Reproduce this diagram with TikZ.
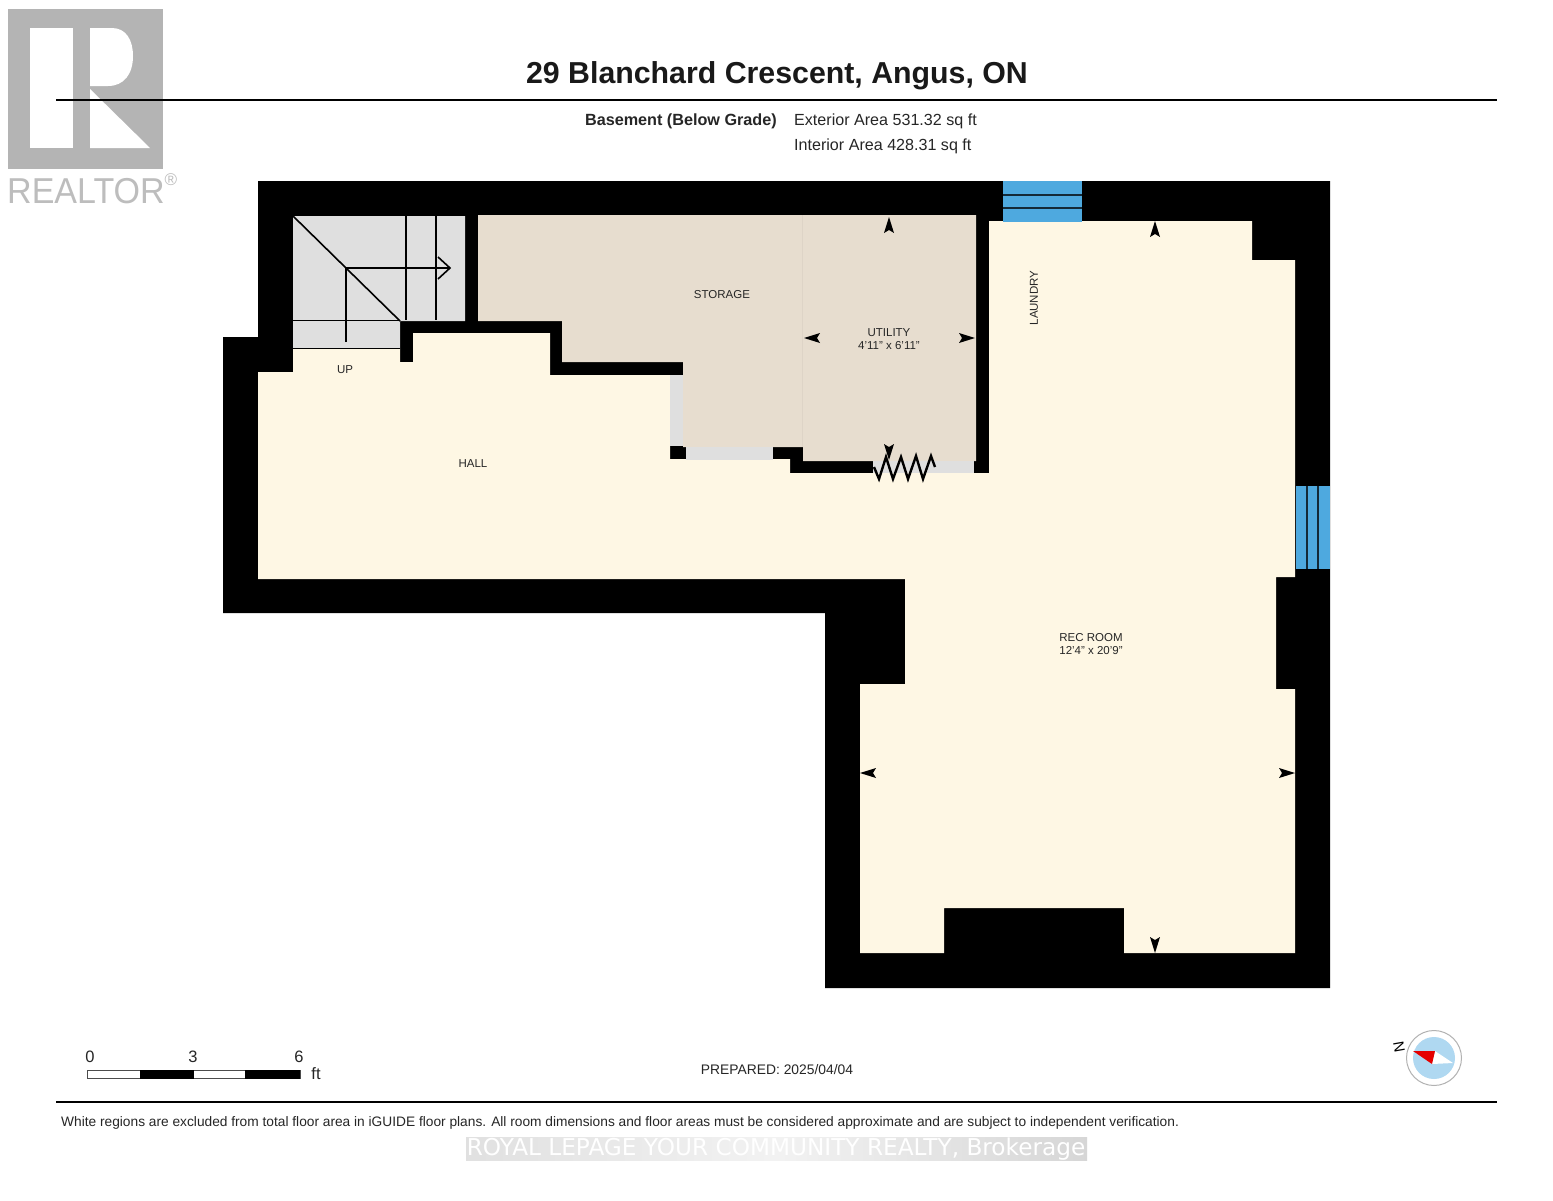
\documentclass[tikz,border=0pt]{standalone}
\usepackage{fontspec}
\setmainfont{Liberation Sans}
\newfontfamily\wmfont{DejaVu Sans}
\definecolor{cream}{HTML}{FEF7E4}
\definecolor{beige}{HTML}{E7DDCF}
\definecolor{stairgray}{HTML}{DFDFDF}
\definecolor{winblue}{HTML}{4EA9DF}
\definecolor{logogray}{HTML}{B4B4B4}
\definecolor{logotext}{HTML}{BDBDBD}
\newcommand{\dimtip}[3]{\fill[black,shift={(#1,#2)},rotate=#3] (0,-8) -- (5,8) -- (0,5) -- (-5,8) -- cycle;}
\tikzset{
  lbl/.style={font=\fontsize{11.5}{13}\selectfont,inner sep=0pt,text=black!85},
  rule/.style={line width=2.8pt,black},
  glass/.style={fill=winblue,draw=none},
  glassline/.style={line width=1.5pt,color=black!75!winblue},
  stairline/.style={line width=1.6pt,black},
}
\begin{document}
\begin{tikzpicture}[x=1pt,y=-1pt]
\useasboundingbox (0,0) rectangle (1553,1200);
\fill[white] (0,0) rectangle (1553,1200);
% logo
\fill[logogray] (8,9) rectangle (163,169);
\fill[white] (30,28) rectangle (73,148);
\fill[white] (90,28) -- (112,28) .. controls (126,28) and (133,40) .. (133,56) .. controls (133,74) and (124,86) .. (108,86) -- (90,86) -- cycle;
\fill[white] (90,89) -- (150,148) -- (90,148) -- cycle;
\node[anchor=base west,inner sep=0pt,text=logotext,xscale=0.945,font=\fontsize{36}{40}\selectfont] (realtor) at (7,203) {REALTOR};
\node[anchor=center,inner sep=0pt,text=logotext,font=\fontsize{17}{18}\selectfont] (reg) at (171,180) {®};
% header
\draw[rule] (56,100) -- (1497,100);
\node[anchor=base,inner sep=0pt,font=\bfseries\fontsize{30.3}{32}\selectfont,text=black!90] (title) at (777,83) {29 Blanchard Crescent, Angus, ON};
\node[anchor=base east,inner sep=0pt,font=\bfseries\fontsize{16.2}{17}\selectfont,text=black!85] (level) at (777,125) {Basement (Below Grade)};
\node[anchor=base west,inner sep=0pt,font=\fontsize{16.1}{17}\selectfont,text=black!85] (ext) at (794,125) {Exterior Area 531.32 sq ft};
\node[anchor=base west,inner sep=0pt,font=\fontsize{16.1}{17}\selectfont,text=black!85] (int) at (794,150) {Interior Area 428.31 sq ft};
% walls
\fill[black] (258,181) -- (1330,181) -- (1330,988) -- (825,988) -- (825,613) -- (223,613) -- (223,337) -- (258,337) -- cycle;
% stairs
\fill[stairgray] (293,216) -- (465,216) -- (465,321) -- (400,321) -- (400,349) -- (293,349) -- cycle;
% storage + utility
\fill[beige] (478,215) -- (976,215) -- (976,461) -- (803,461) -- (803,447) -- (683,447) -- (683,362) -- (562,362) -- (562,321) -- (478,321) -- cycle;
\draw[line width=0.6pt,color=beige!96!black] (802,215) -- (802,447);
% hall + rec room
\fill[cream] (258,372) -- (293,372) -- (293,349) -- (400,349) -- (400,362) -- (413,362) -- (413,333) -- (550,333) -- (550,375) -- (670,375) -- (670,459) -- (790,459) -- (790,473) -- (989,473) -- (989,221) -- (1252,221) -- (1252,260) -- (1295,260) -- (1295,577) -- (1276,577) -- (1276,689) -- (1295,689) -- (1295,953) -- (1124,953) -- (1124,908) -- (944,908) -- (944,953) -- (860,953) -- (860,684) -- (905,684) -- (905,579) -- (258,579) -- cycle;
% openings
\fill[stairgray] (670,375) rectangle (683,446);
\fill[stairgray] (686,447) rectangle (773,460);
\fill[stairgray] (873,461) rectangle (974,473);
% windows
\fill[glass] (1003,181) rectangle (1082,222);
\draw[glassline] (1003,195) -- (1082,195);
\draw[glassline] (1003,208) -- (1082,208);
\fill[glass] (1296,486) rectangle (1330,569);
\draw[glassline] (1307,486) -- (1307,569);
\draw[glassline] (1318,486) -- (1318,569);
% stair lines
\draw[stairline] (293,216) -- (400,321);
\draw[stairline] (293,320.5) -- (400,320.5);
\draw[stairline] (293,348.5) -- (400,348.5);
\draw[stairline] (406,216) -- (406,320);
\draw[stairline] (436,216) -- (436,320);
\draw[stairline] (346,342) -- (346,268) -- (450,268);
\draw[stairline] (438,257) -- (450,268) -- (438,279);
% zigzag
\draw[line width=2.4pt,black,line join=miter] (874,467) -- (879,479) -- (886,457) -- (893,479) -- (901,457) -- (908,479) -- (916,456) -- (923,479) -- (931,456) -- (935,467);
% dimension tips
\dimtip{889}{225}{0}
\dimtip{889}{452}{180}
\dimtip{812}{338}{90}
\dimtip{967}{338}{-90}
\dimtip{1155}{229}{0}
\dimtip{1155}{945}{180}
\dimtip{868}{773}{90}
\dimtip{1287}{773}{-90}
% room labels
\node[lbl] (storage) at (722,295) {STORAGE};
\node[lbl] (utility) at (889,333) {UTILITY};
\node[lbl] (utilitydim) at (889,346) {4'11" x 6'11"};
\node[lbl,rotate=90] (laundry) at (1034,298) {LAUNDRY};
\node[lbl] (up) at (345,370) {UP};
\node[lbl] (hall) at (473,464) {HALL};
\node[lbl] (rec) at (1091,638) {REC ROOM};
\node[lbl] (recdim) at (1091,651) {12'4" x 20'9"};
% scale bar
\draw[line width=0.8pt,black!70,fill=white] (87,1070.5) rectangle (300,1078);
\fill[black] (140,1070) rectangle (194,1078.5);
\fill[black] (245,1070) rectangle (300,1078.5);
\node[inner sep=0pt,font=\fontsize{16.5}{18}\selectfont,text=black!85] (s0) at (90,1057) {0};
\node[inner sep=0pt,font=\fontsize{16.5}{18}\selectfont,text=black!85] (s3) at (193,1057) {3};
\node[inner sep=0pt,font=\fontsize{16.5}{18}\selectfont,text=black!85] (s6) at (299,1057) {6};
\node[inner sep=0pt,font=\fontsize{16.5}{18}\selectfont,text=black!85] (sft) at (316,1074) {ft};
\node[inner sep=0pt,font=\fontsize{13.85}{16}\selectfont,text=black!85] (prep) at (777,1070) {PREPARED: 2025/04/04};
% compass
\draw[line width=1pt,color=black!30!white,fill=white] (1434,1058) circle (27.5);
\fill[color=winblue!45!white] (1434,1058) circle (21);
\fill[white] (1435,1051) -- (1453,1063) -- (1432,1064) -- cycle;
\fill[red!90!black] (1413,1051) -- (1435,1051) -- (1432,1064) -- cycle;
\node[inner sep=0pt,rotate=100,font=\fontsize{15}{16}\selectfont] (north) at (1399,1047) {N};
% footer
\draw[rule] (56,1102) -- (1497,1102);
\node[anchor=base west,inner sep=0pt,font=\fontsize{13.73}{16}\selectfont,text=black!85] (note) at (61,1126) {White regions are excluded from total floor area in iGUIDE floor plans. All room dimensions and floor areas must be considered approximate and are subject to independent verification.};
\shade[left color=black!12,right color=black!16,middle color=black!5] (466,1137) rectangle (1087,1160);
\node[anchor=base,inner sep=0pt,text=white,font=\wmfont\fontsize{23.2}{26}\selectfont] (water) at (776,1155) {ROYAL LEPAGE YOUR COMMUNITY REALTY, Brokerage};
\end{tikzpicture}
\end{document}
